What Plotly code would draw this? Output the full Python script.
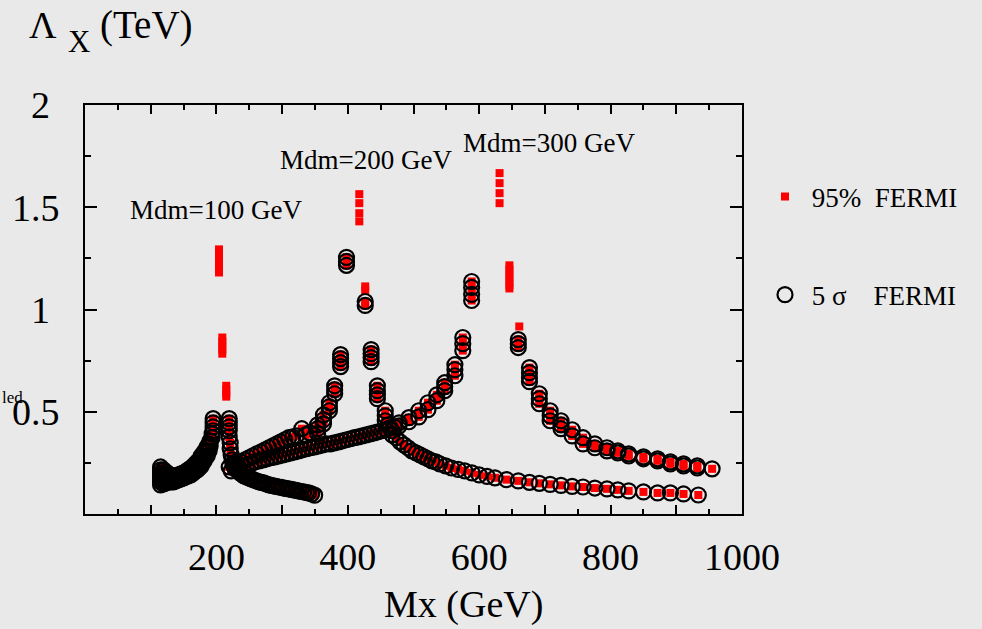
import plotly.graph_objects as go

# ---------------- data (Mx in GeV, Lambda_X in TeV) ----------------
# Mdm = 100 GeV, left branch (both 95% and 5 sigma)
m100_left_x = [115, 115, 115, 115, 119.5, 119.5, 119.5, 123, 123, 127, 127, 131, 131,
               134.5, 134.5, 138, 138, 142, 142, 146, 146, 150, 150, 153, 153, 157, 157,
               161, 161, 165, 165, 168, 168, 171, 171, 174, 174, 177, 177, 181.5, 181.5,
               186, 186, 189, 189, 190.5, 190.5, 193.5, 193.5, 195, 195, 195, 195,
               115, 115, 115, 119.5, 119.5, 123, 123, 127, 131, 134.5, 138, 142, 146, 150,
               153, 157, 161, 165, 168, 171, 174, 177, 181.5, 186, 189]
m100_left_y = [0.230, 0.201, 0.172, 0.142, 0.216, 0.181, 0.147, 0.206, 0.152, 0.196, 0.157,
               0.186, 0.157, 0.186, 0.157, 0.186, 0.162, 0.191, 0.167, 0.196, 0.172, 0.201,
               0.176, 0.206, 0.181, 0.216, 0.186, 0.225, 0.191, 0.235, 0.201, 0.245, 0.211,
               0.255, 0.216, 0.265, 0.225, 0.284, 0.235, 0.304, 0.260, 0.328, 0.284, 0.343,
               0.309, 0.358, 0.333, 0.392, 0.373, 0.466, 0.446, 0.426, 0.407,
               0.157, 0.186, 0.216, 0.162, 0.196, 0.172, 0.191, 0.176, 0.172, 0.172, 0.174,
               0.179, 0.184, 0.189, 0.194, 0.201, 0.208, 0.218, 0.228, 0.235, 0.245, 0.260,
               0.282, 0.306, 0.326]

# Mdm = 100 GeV, right branch
m100_right_x = [219.5, 219.5, 219.5, 219.5, 219.5, 221, 221, 222.5, 224, 225.5, 227, 229,
                231.5, 234, 236, 239, 242, 246, 249.5, 253, 257, 261, 265, 268.5, 272,
                276, 280, 284, 287.5, 291, 295, 299, 302.5, 306, 310, 314, 317.5, 321,
                325, 329, 333, 337, 340.5, 345, 349.5]
m100_right_y = [0.466, 0.446, 0.426, 0.407, 0.377, 0.348, 0.319, 0.289, 0.265, 0.250, 0.240,
                0.230, 0.221, 0.211, 0.201, 0.194, 0.186, 0.181, 0.176, 0.172, 0.167, 0.162,
                0.157, 0.155, 0.152, 0.147, 0.142, 0.140, 0.137, 0.135, 0.132, 0.130, 0.127,
                0.125, 0.123, 0.120, 0.118, 0.116, 0.113, 0.110, 0.108, 0.105, 0.103, 0.098,
                0.092]

# Mdm = 100 GeV, points only at 95% (red squares without circles)
m100_red_x = [204, 204, 204, 204, 204, 204, 204, 209, 209, 209, 209, 209, 215, 215, 215, 215]
m100_red_y = [1.294, 1.275, 1.255, 1.235, 1.216, 1.196, 1.181, 0.863, 0.843, 0.824, 0.804,
              0.784, 0.627, 0.608, 0.588, 0.574]

# Mdm = 200 GeV, left branch
m200_left_x = [219.5, 225.5, 231.5, 237.5, 243.5, 249.5, 255.5, 261.5, 268, 274, 280, 286,
               292, 298, 304, 310, 316, 322, 330, 336, 342, 354, 354, 354, 363, 363, 363,
               372, 372, 372, 380, 380, 380, 389, 389, 389, 389, 398, 398, 398]
m200_left_y = [0.230, 0.240, 0.250, 0.255, 0.265, 0.275, 0.284, 0.294, 0.304, 0.314, 0.324,
               0.333, 0.343, 0.353, 0.363, 0.373, 0.377, 0.382, 0.417, 0.387, 0.397, 0.436,
               0.417, 0.392, 0.485, 0.461, 0.441, 0.544, 0.525, 0.505, 0.627, 0.608, 0.588,
               0.779, 0.760, 0.740, 0.721, 1.255, 1.235, 1.216]

# Mdm = 200 GeV, right branch
m200_right_x = [426.5, 426.5, 435.5, 435.5, 435.5, 435.5, 445, 445, 445, 445, 457, 457, 457,
                461.5, 467.5, 467.5, 473.5, 479.5, 485.5, 491.5, 497.5, 504, 510, 516, 522,
                528, 534, 540, 549, 558, 568, 578, 589, 600, 612, 624, 641.5, 659.5, 676.5,
                691.5, 708, 724.5, 741.5, 758, 776, 794.5, 811, 827.5, 850, 871.5, 891, 911,
                933.5]
m200_right_y = [1.039, 1.020, 0.804, 0.784, 0.765, 0.745, 0.627, 0.603, 0.583, 0.564, 0.505,
                0.480, 0.456, 0.436, 0.407, 0.387, 0.373, 0.353, 0.338, 0.324, 0.309, 0.299,
                0.289, 0.279, 0.270, 0.260, 0.255, 0.245, 0.235, 0.225, 0.218, 0.211, 0.201,
                0.191, 0.184, 0.177, 0.168, 0.162, 0.155, 0.150, 0.145, 0.140, 0.135, 0.132,
                0.127, 0.123, 0.118, 0.113, 0.108, 0.103, 0.103, 0.098, 0.093]

# Mdm = 200 GeV, 95% only
m200_red_x = [417.5, 417.5, 417.5, 417.5, 426.5, 426.5]
m200_red_y = [1.564, 1.520, 1.471, 1.431, 1.113, 1.093]

# Mdm = 300 GeV, left branch
m300_left_x = [222.5, 228.5, 234.5, 240.5, 246.5, 252.5, 258.5, 265, 271, 277, 283, 289, 295,
               301, 307, 313, 319, 325, 331, 337.5, 343.5, 349.5, 355.5, 361.5, 367.5, 373.5,
               379.5, 386, 392, 398, 404, 410, 416, 422, 428, 434, 440, 446, 452, 458.5,
               464.5, 470.5, 478, 478, 493, 493, 508, 508, 522, 522, 535.5, 535.5, 547.5,
               547.5, 547.5, 563, 563, 563, 575, 575, 575, 588.5, 588.5, 588.5, 588.5]
m300_left_y = [0.211, 0.221, 0.225, 0.235, 0.240, 0.245, 0.255, 0.260, 0.265, 0.270, 0.275,
               0.279, 0.284, 0.289, 0.294, 0.299, 0.304, 0.309, 0.314, 0.319, 0.324, 0.328,
               0.333, 0.338, 0.343, 0.343, 0.348, 0.353, 0.358, 0.363, 0.368, 0.373, 0.377,
               0.382, 0.387, 0.392, 0.397, 0.402, 0.407, 0.412, 0.422, 0.426, 0.446, 0.431,
               0.471, 0.451, 0.505, 0.475, 0.544, 0.510, 0.583, 0.554, 0.642, 0.623, 0.603,
               0.730, 0.706, 0.676, 0.863, 0.833, 0.799, 1.137, 1.108, 1.074, 1.044]

# Mdm = 300 GeV, right branch
m300_right_x = [659.5, 659.5, 659.5, 676.5, 676.5, 676.5, 676.5, 691.5, 691.5, 691.5, 708,
                708, 708, 724.5, 724.5, 724.5, 741.5, 741.5, 758, 758, 776, 776, 794.5, 794.5,
                811, 811, 827.5, 827.5, 850, 850, 871.5, 871.5, 891, 891, 911, 911, 932, 932,
                954.5]
m300_right_y = [0.853, 0.833, 0.814, 0.716, 0.691, 0.667, 0.647, 0.588, 0.564, 0.539, 0.505,
                0.480, 0.456, 0.456, 0.436, 0.417, 0.412, 0.382, 0.373, 0.343, 0.343, 0.324,
                0.324, 0.309, 0.309, 0.299, 0.294, 0.284, 0.279, 0.270, 0.270, 0.260, 0.255,
                0.245, 0.245, 0.235, 0.235, 0.225, 0.221]

# Mdm = 300 GeV, 95% only
m300_red_x = [631, 631, 631, 631, 646, 646, 646, 646, 646, 646, 646, 661]
m300_red_y = [1.667, 1.618, 1.569, 1.520, 1.216, 1.196, 1.176, 1.157, 1.137, 1.118, 1.103,
              0.917]

x_tickvals = [100, 200, 300, 400, 500, 600, 700, 800, 900, 1000]
x_ticktext = ["", "200", "", "400", "", "600", "", "800", "", "1000"]
y_tickvals = [0, 0.5, 1, 1.5, 2]
y_ticktext = ["", "0.5", "1\u00a0", "1.5", "2\u00a0"]

mdm_labels = ["Mdm=100 GeV", "Mdm=200 GeV", "Mdm=300 GeV"]
mdm_label_x = [200, 427, 706]
mdm_label_y = [1.485, 1.73, 1.814]

# ---------------- assemble ----------------
sig_x = m100_left_x + m100_right_x + m200_left_x + m200_right_x + m300_left_x + m300_right_x
sig_y = m100_left_y + m100_right_y + m200_left_y + m200_right_y + m300_left_y + m300_right_y
red_x = sig_x + m100_red_x + m200_red_x + m300_red_x
red_y = sig_y + m100_red_y + m200_red_y + m300_red_y

FONT = "Liberation Serif, Times New Roman, serif"
BG = "#e9e9e9"

fig = go.Figure()
fig.add_trace(go.Scatter(
    x=red_x, y=red_y, mode="markers", name="\u00a095%\u00a0\u00a0FERMI",
    legendgroup="a",
    marker=dict(symbol="square", size=8, color="#ff0000", line=dict(width=0)),
))
fig.add_trace(go.Scatter(
    x=sig_x, y=sig_y, mode="markers", name="\u00a05\u00a0σ\u00a0\u00a0\u00a0\u00a0FERMI",
    legendgroup="b",
    marker=dict(symbol="circle-open", size=15, color="black", line=dict(width=2.2)),
))

axis_common = dict(
    showline=True, linecolor="black", linewidth=2, mirror="allticks",
    showgrid=False, zeroline=False, ticks="inside", tickcolor="black", tickwidth=1.5,
    tickfont=dict(family=FONT, size=38, color="black"),
)

fig.update_xaxes(
    range=[0, 1000], tickmode="array", tickvals=x_tickvals, ticktext=x_ticktext,
    ticklen=9, ticklabelstandoff=8,
    minor=dict(dtick=50, tick0=0, ticks="inside", ticklen=5, tickcolor="black", tickwidth=1.5),
    **axis_common,
)
fig.update_yaxes(
    range=[0, 2], tickmode="array", tickvals=y_tickvals, ticktext=y_ticktext,
    ticklen=12, ticklabelstandoff=16,
    minor=dict(dtick=0.25, tick0=0, ticks="inside", ticklen=6, tickcolor="black", tickwidth=1.5),
    **axis_common,
)

annotations = []
for t, ax_, ay_ in zip(mdm_labels, mdm_label_x, mdm_label_y):
    annotations.append(dict(x=ax_, y=ay_, xref="x", yref="y", text=t, showarrow=False,
                            font=dict(family=FONT, size=27, color="black")))
# y-axis title  "Λ_X (TeV)" drawn in three parts
annotations.append(dict(x=-0.0877, y=1.196, xref="paper", yref="paper", xanchor="left",
                        yanchor="middle", text="Λ", showarrow=False,
                        font=dict(family=FONT, size=38, color="black")))
annotations.append(dict(x=-0.0287, y=1.155, xref="paper", yref="paper", xanchor="left",
                        yanchor="middle", text="X", showarrow=False,
                        font=dict(family=FONT, size=31, color="black")))
annotations.append(dict(x=0.0197, y=1.196, xref="paper", yref="paper", xanchor="left",
                        yanchor="middle", text="(TeV)", showarrow=False,
                        font=dict(family=FONT, size=39, color="black")))
annotations.append(dict(x=0.576, y=-0.222, xref="paper", yref="paper", xanchor="center",
                        yanchor="middle", text="Mx (GeV)", showarrow=False,
                        font=dict(family=FONT, size=38, color="black")))
annotations.append(dict(x=-0.091, y=0.286, xref="paper", yref="paper", xanchor="right",
                        yanchor="middle", text="led", showarrow=False,
                        font=dict(family=FONT, size=17, color="black")))

fig.update_layout(
    width=982, height=629,
    margin=dict(l=81, r=240, t=105, b=115),
    paper_bgcolor=BG, plot_bgcolor="rgba(0,0,0,0)",
    font=dict(family=FONT, color="black"),
    showlegend=True,
    legend=dict(x=1.035, y=0.835, xanchor="left", yanchor="top", bgcolor="rgba(0,0,0,0)",
                font=dict(family=FONT, size=27, color="black"), tracegroupgap=60,
                traceorder="grouped", itemsizing="trace"),
    annotations=annotations,
)

fig.write_html("out.html")
